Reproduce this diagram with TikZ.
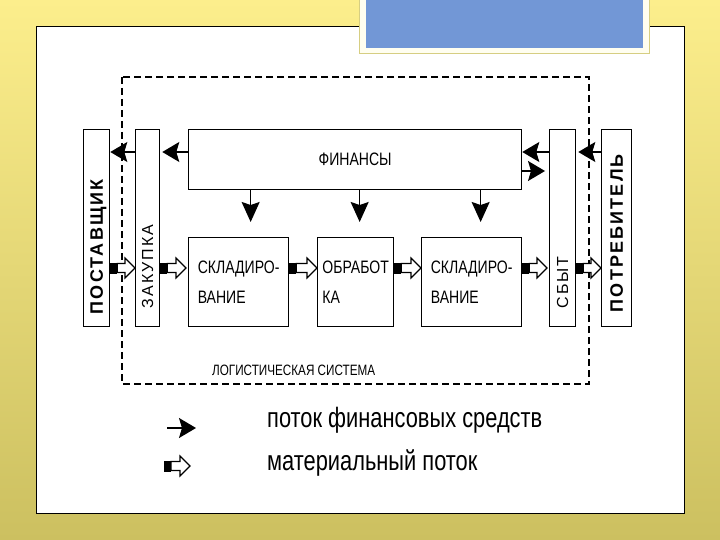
\documentclass[tikz,border=0pt]{standalone}
\usepackage{fontspec}
\setmainfont{Liberation Sans}
\newfontfamily\narrowfont[FakeStretch=0.78]{Liberation Sans}
\newfontfamily\spacedfont[LetterSpace=12]{Liberation Sans}
\newfontfamily\spacedbold[LetterSpace=12]{Liberation Sans Bold}
\usetikzlibrary{arrows.meta,calc}

\definecolor{bgtop}{RGB}{252,238,140}
\definecolor{bgbottom}{RGB}{204,192,96}
\definecolor{titleblue}{RGB}{114,151,214}
\definecolor{frameedge}{RGB}{214,206,130}

% open block arrow with a black tail
\newcommand{\matflow}[2]{%
  \fill let \p1=(#1) in (\x1,\y1-5.5pt) rectangle (\x1+7pt,\y1+5.5pt);
  \draw[matbody] let \p1=(#1), \p2=(#2) in
    (\x1+7pt,\y1-4.5pt) -- (\x2-10pt,\y1-4.5pt) -- (\x2-10pt,\y1-10pt)
    -- (\x2,\y1) -- (\x2-10pt,\y1+10pt) -- (\x2-10pt,\y1+4.5pt)
    -- (\x1+7pt,\y1+4.5pt) -- cycle;
}

\begin{document}
\begin{tikzpicture}[x=1pt,y=-1pt,
    box/.style={draw, line width=1.3pt, inner sep=0pt, anchor=north west},
    storebox/.style={box, align=left, font=\narrowfont\fontsize{18}{30}\selectfont},
    vlabel/.style={rotate=90, anchor=west, inner sep=0pt, text depth=0pt},
    finflow/.style={line width=1.3pt, -{Stealth[length=17pt,width=20pt,inset=3pt]}},
    findown/.style={line width=1.3pt, -{Stealth[length=20pt,width=18pt,inset=3pt]}},
    matbody/.style={draw, fill=white, line width=1.2pt, line join=miter},
    sysframe/.style={line width=1.2pt, dash pattern=on 7pt off 4pt}]
    \useasboundingbox (0,0) rectangle (720,540);
    \shade[top color=bgtop, bottom color=bgbottom] (0,0) rectangle (720,540);
    \draw[fill=white, line width=0.9pt] (36,26) rectangle (684,513);
    \draw[fill=white!94!yellow, draw=frameedge, line width=0.8pt] (359,-2) rectangle (649,53);
    \fill[titleblue] (366,-2) rectangle (643,48);

    \coordinate (finrow) at (0,152);
    \coordinate (finrow2) at (0,171);
    \coordinate (matrow) at (0,268);

    % system border
    \draw[sysframe] (122,77) rectangle (589,384);
    \node[anchor=mid west, inner sep=0pt, font=\narrowfont\fontsize{15}{15}\selectfont]
      (systemlabel) at (212,373) {ЛОГИСТИЧЕСКАЯ СИСТЕМА};

    % boxes
    \node[box, minimum width=26pt, minimum height=197pt] (supplier) at (83,129) {};
    \node[box, minimum width=24pt, minimum height=197pt] (purchase) at (135,129) {};
    \node[box, minimum width=333pt, minimum height=60pt,
          font=\narrowfont\fontsize{18}{18}\selectfont] (finance) at (188,129) {ФИНАНСЫ};
    \node[storebox, minimum width=100pt, minimum height=89pt] (store1) at (188,237) {СКЛАДИРО-\\ВАНИЕ};
    \node[storebox, minimum width=76pt, minimum height=89pt] (process) at (317,237) {ОБРАБОТ\\КА};
    \node[storebox, minimum width=100pt, minimum height=89pt] (store2) at (421,237) {СКЛАДИРО-\\ВАНИЕ};
    \node[box, minimum width=26pt, minimum height=197pt] (sales) at (549,129) {};
    \node[box, minimum width=30pt, minimum height=197pt] (consumer) at (601,129) {};

    \node[vlabel, font=\spacedbold\fontsize{18}{18}\selectfont] at ([yshift=13pt]supplier.south) {ПОСТАВЩИК};
    \node[vlabel, font=\spacedfont\fontsize{16}{16}\selectfont] at ([yshift=19pt]purchase.south) {ЗАКУПКА};
    \node[vlabel, font=\spacedfont\fontsize{16}{16}\selectfont] at ([yshift=19pt]sales.south) {СБЫТ};
    \node[vlabel, font=\spacedbold\fontsize{18}{18}\selectfont] at ([yshift=15pt]consumer.south) {ПОТРЕБИТЕЛЬ};

    % financial flows
    \draw[finflow] (purchase.west |- finrow) -- (supplier.east |- finrow);
    \draw[finflow] (finance.west |- finrow) -- ([xshift=2pt]purchase.east |- finrow);
    \draw[finflow] (sales.west |- finrow) -- (finance.east |- finrow);
    \draw[finflow] (finance.east |- finrow2) -- ([xshift=-4pt]sales.west |- finrow2);
    \draw[finflow] (consumer.west |- finrow) -- ([xshift=2pt]sales.east |- finrow);
    \draw[findown] ([xshift=12pt]store1.north |- finance.south) -- ([xshift=12pt,yshift=15pt]store1.north);
    \draw[findown] ([xshift=4pt]process.north |- finance.south) -- ([xshift=4pt,yshift=15pt]process.north);
    \draw[findown] ([xshift=9pt]store2.north |- finance.south) -- ([xshift=9pt,yshift=15pt]store2.north);

    % material flows
    \matflow{supplier.east |- matrow}{purchase.west |- matrow}
    \matflow{purchase.east |- matrow}{[xshift=-2pt]store1.west |- matrow}
    \matflow{store1.east |- matrow}{process.west |- matrow}
    \matflow{process.east |- matrow}{store2.west |- matrow}
    \matflow{store2.east |- matrow}{[xshift=-2pt]sales.west |- matrow}
    \matflow{sales.east |- matrow}{consumer.west |- matrow}

    % legend
    \coordinate (legfinA) at (167,428);
    \coordinate (legfinB) at (196,428);
    \coordinate (legmatA) at (164,466);
    \coordinate (legmatB) at (190,466);
    \draw[finflow] (legfinA) -- (legfinB);
    \matflow{legmatA}{legmatB}
    \node[anchor=mid west, inner sep=0pt, font=\narrowfont\fontsize{28}{28}\selectfont]
      (legfin) at (267,425) {поток финансовых средств};
    \node[anchor=mid west, inner sep=0pt, font=\narrowfont\fontsize{28}{28}\selectfont]
      (legmat) at (267,468) {материальный поток};
\end{tikzpicture}
\end{document}
